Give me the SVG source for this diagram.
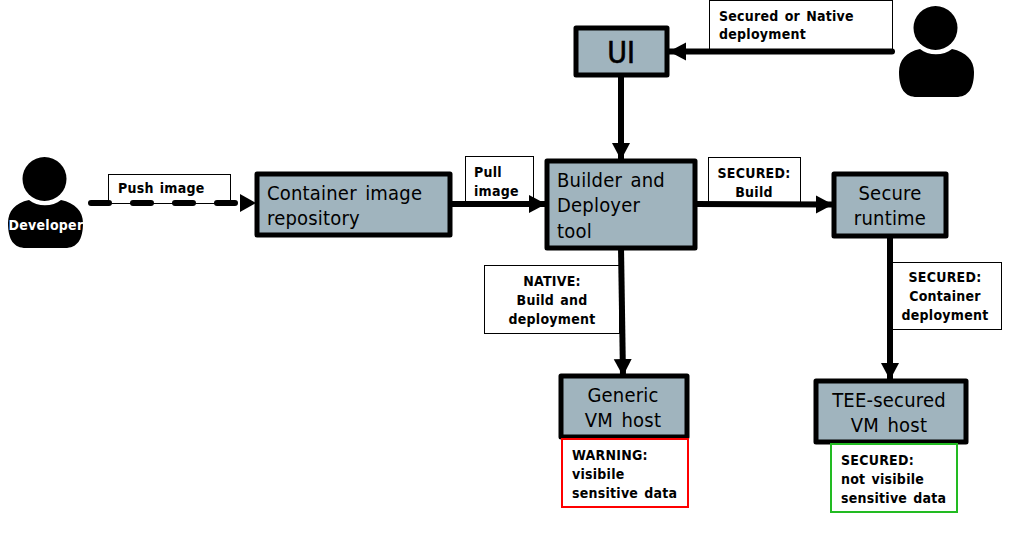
<svg xmlns="http://www.w3.org/2000/svg" width="1015" height="534" viewBox="0 0 1015 534">
<style>
text{font-family:"DejaVu Sans",sans-serif;font-stretch:condensed;fill:#000}
.n{fill:#a0b4be;stroke:#000;stroke-width:5;stroke-linejoin:round}
.t{font-size:20px;letter-spacing:.2px;word-spacing:2.5px}
.l{font-size:14px;font-weight:bold;letter-spacing:.25px;word-spacing:1.5px}
.b{fill:#fff;stroke:#000;stroke-width:1}
.c{fill:none;stroke:#000;stroke-width:6}
.m{text-anchor:middle}
</style>
<defs>
<marker id="a" markerUnits="userSpaceOnUse" markerWidth="18" markerHeight="20" refX="17" refY="10" orient="auto"><path d="M0 1L17 10L0 19Z" fill="#000"/></marker>
<g id="person"><circle cx="44.500" cy="179" r="22"/><path d="M8 223C8 211 15 203 29 200C37 207 53 207 61 200C75 203 83 211 83 223C83 240 77 248 65 248L26 248C14 248 8 240 8 223Z"/></g>
</defs>
<g id="labels">
<g id="label-push"><rect class="b" x="108.500" y="174.500" width="122" height="29"/><text class="l" x="118" y="193">Push image</text></g>
<g id="label-secured-native"><rect class="b" x="709.500" y="0.500" width="183" height="49"/><text class="l" x="719" y="21">Secured or Native</text><text class="l" x="719" y="39">deployment</text></g>
<g id="label-pull"><rect class="b" x="465.500" y="156.500" width="68" height="47"/><text class="l" x="474" y="177">Pull</text><text class="l" x="474" y="196">image</text></g>
<g id="label-secured-build"><rect class="b" x="708.500" y="157.500" width="92" height="46"/><text class="l m" x="754" y="178">SECURED:</text><text class="l m" x="754" y="197">Build</text></g>
<g id="label-native"><rect class="b" x="484.500" y="265.500" width="135" height="68"/><text class="l m" x="552" y="286">NATIVE:</text><text class="l m" x="552" y="305">Build and</text><text class="l m" x="552" y="324">deployment</text></g>
<g id="label-secured-container"><rect class="b" x="890.500" y="262.500" width="111" height="67"/><text class="l m" x="945" y="282">SECURED:</text><text class="l m" x="945" y="301">Container</text><text class="l m" x="945" y="320">deployment</text></g>
</g>
<g id="connectors">
<path d="M91 203H109M133 203H151M175 203H193M217 203H235" fill="none" stroke="#000" stroke-width="6" stroke-linecap="round"/>
<path d="M240 194L256 203L240 212Z" fill="#000"/>
<path class="c" d="M892 51.500H669" marker-end="url(#a)" stroke-linecap="round"/>
<path class="c" d="M621 75V160" marker-end="url(#a)"/>
<path class="c" d="M449 204H546" marker-end="url(#a)"/>
<path class="c" d="M694 204L833 204.500" marker-end="url(#a)"/>
<path class="c" d="M621 247L623 376" marker-end="url(#a)"/>
<path class="c" d="M890 235V380" marker-end="url(#a)"/>
</g>
<g id="developer"><use href="#person"/><text class="l m" x="46" y="230" style="fill:#fff">Developer</text></g>
<g id="user"><use href="#person" x="891" y="-151"/></g>
<g id="ui"><rect class="n" x="576" y="28" width="91" height="47"/><text class="m" x="621" y="63" font-size="30" stroke="#000" stroke-width=".6">UI</text></g>
<g id="repo"><rect class="n" x="257" y="174" width="193" height="61"/><text class="t" x="267" y="200">Container image</text><text class="t" x="267" y="225">repository</text></g>
<g id="builder"><rect class="n" x="547" y="161" width="148" height="87"/><text class="t" x="557" y="187">Builder and</text><text class="t" x="557" y="212">Deployer</text><text class="t" x="557" y="238">tool</text></g>
<g id="secure-runtime"><rect class="n" x="834" y="174" width="112" height="62"/><text class="t m" x="890" y="200">Secure</text><text class="t m" x="890" y="225">runtime</text></g>
<g id="generic-vm"><rect class="n" x="561" y="376" width="126" height="61"/><text class="t m" x="623" y="402">Generic</text><text class="t m" x="623" y="427">VM host</text></g>
<g id="tee-vm"><rect class="n" x="816" y="381" width="150" height="61"/><text class="t m" x="889" y="407">TEE-secured</text><text class="t m" x="889" y="432">VM host</text></g>
<g id="warning"><rect x="562" y="439" width="126" height="68" fill="#fff" stroke="#f00" stroke-width="2"/><text class="l" x="572" y="460">WARNING:</text><text class="l" x="572" y="479">visibile</text><text class="l" x="572" y="498">sensitive data</text></g>
<g id="secured-note"><rect x="831" y="444" width="126" height="68" fill="#fff" stroke="#22bb22" stroke-width="2"/><text class="l" x="841" y="465">SECURED:</text><text class="l" x="841" y="484">not visibile</text><text class="l" x="841" y="503">sensitive data</text></g>
</svg>
